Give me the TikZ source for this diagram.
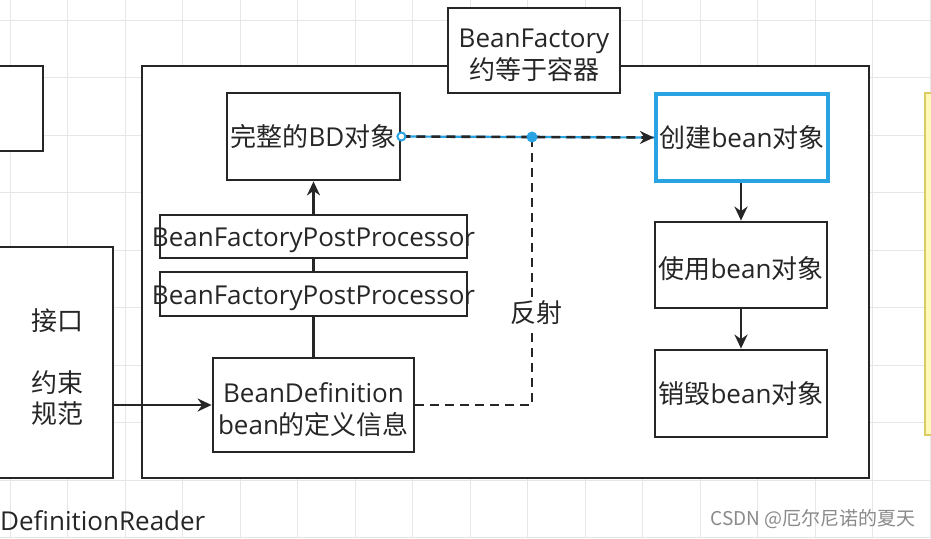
\documentclass[tikz,border=0pt]{standalone}
\usepackage{fontspec}
\setmainfont{Open Sans}
\newfontfamily\cjk{Noto Sans CJK SC}
\usetikzlibrary{arrows.meta}
\definecolor{ink}{HTML}{262626}
\definecolor{selblue}{RGB}{41,163,226}
\definecolor{gridc}{HTML}{E6E6E6}
\definecolor{noteyellow}{HTML}{FFF8B8}
\definecolor{noteedge}{HTML}{DCCB62}
\definecolor{wmark}{HTML}{8A8A8A}
\newcommand{\zh}[1]{{\cjk #1}}
\newcommand{\shiftdown}[2]{\raisebox{-#1}[\height][\depth]{#2}}
\tikzset{
  box/.style={draw=ink, line width=2.8pt, fill=white, text=ink,
    font=\fontsize{26}{32}\selectfont, align=center, inner sep=0pt},
  selbox/.style={box, draw=selblue, line width=4.2pt},
  lbl/.style={text=ink, font=\fontsize{26}{31}\selectfont, align=center, inner sep=1pt},
  conn/.style={draw=ink, line width=2.6pt},
  arr/.style={conn, -{Stealth[length=14pt,width=13pt]}},
  dashconn/.style={conn, dash pattern=on 9pt off 6pt},
}
\begin{document}
\begin{tikzpicture}[x=1pt,y=1pt]
\useasboundingbox (0,0) rectangle (931,-538);
\fill[white] (0,0) rectangle (931,-538);
% background grid
\foreach \i in {0,...,16} \draw[gridc, line width=0.8pt] ({10+57.5*\i},0) -- ({10+57.5*\i},-538);
\foreach \j in {0,...,9} \draw[gridc, line width=0.8pt] (0,{-20-57.5*\j}) -- (931,{-20-57.5*\j});

% left boxes (cut by the frame)
\node[box, minimum width=53pt, minimum height=85pt] (topleft) at (16.5,-108.5) {};
\node[box, minimum width=123pt, minimum height=231pt] (iface) at (51.5,-362.5) {};
\node[lbl] (ifacetext) at (57,-367) {\zh{接口}\\[31pt]\zh{约束}\\\zh{规范}};
\node[lbl, anchor=west, inner sep=0pt] (reader) at (0,-521) {DefinitionReader};

% container
\node[box, minimum width=727pt, minimum height=412pt] (container) at (505.5,-272) {};
\node[box, minimum width=172pt, minimum height=85pt] (bf) at (534,-50.5) {\shiftdown{7pt}{\begin{tabular}{@{}c@{}}BeanFactory\\\zh{约等于容器}\end{tabular}}};

% left column
\node[box, minimum width=173pt, minimum height=87pt] (bdfull) at (313.5,-136.5) {\zh{完整的}BD\zh{对象}};
\node[box, minimum width=307pt, minimum height=43pt] (bfpp1) at (313.5,-236.5) {\makebox[0pt][c]{\shiftdown{4pt}{BeanFactoryPostProcessor}}};
\node[box, minimum width=307pt, minimum height=44pt] (bfpp2) at (313.5,-294) {\makebox[0pt][c]{\shiftdown{4pt}{BeanFactoryPostProcessor}}};
\node[box, minimum width=201pt, minimum height=94pt] (bd) at (313.5,-405) {\shiftdown{7pt}{\begin{tabular}{@{}c@{}}BeanDefinition\\bean\zh{的定义信息}\end{tabular}}};

% right column
\node[selbox, minimum width=172pt, minimum height=87pt] (create) at (742,-137.5) {\zh{创建}bean\zh{对象}};
\node[box, minimum width=172pt, minimum height=86pt] (use) at (741,-265) {\shiftdown{4pt}{\zh{使用}bean\zh{对象}}};
\node[box, minimum width=172pt, minimum height=87pt] (destroy) at (741,-393.5) {\zh{销毁}bean\zh{对象}};

% yellow note at the right edge (cut)
\node[draw=noteedge, fill=noteyellow, line width=1.2pt, minimum width=30pt, minimum height=342pt] (note) at (940,-264) {};

% connectors
\draw[arr] (bd.west -| iface.east) -- (bd.west);
\draw[conn] (bd.north) -- (bfpp2.south);
\draw[conn] (bfpp2.north) -- (bfpp1.south);
\draw[arr] (bfpp1.north) -- (bdfull.south);

\coordinate (junc) at (532,-137);
\draw[dashconn] (bd.east) -- (bd.east -| junc) -- (junc);
\node[lbl, fill=white, inner sep=3pt] (reflect) at (536,-313) {\zh{反射}};

\draw[selblue, line width=2.2pt] (bdfull.east) -- (create.west);
\draw[dashconn, -{Stealth[length=14pt,width=13pt]}] (bdfull.east) -- (create.west);
\fill[selblue] (junc) circle (5.5pt);
\draw[selblue, fill=white, line width=2pt] (bdfull.east) circle (4pt);

\draw[arr] (create.south -| use.north) -- (use.north);
\draw[arr] (use.south) -- (destroy.north);

% watermark
\node[text=wmark, font=\cjk\fontsize{19}{22}\selectfont, anchor=east, inner sep=0pt] (wm) at (916,-519) {CSDN @厄尔尼诺的夏天};
\end{tikzpicture}
\end{document}
